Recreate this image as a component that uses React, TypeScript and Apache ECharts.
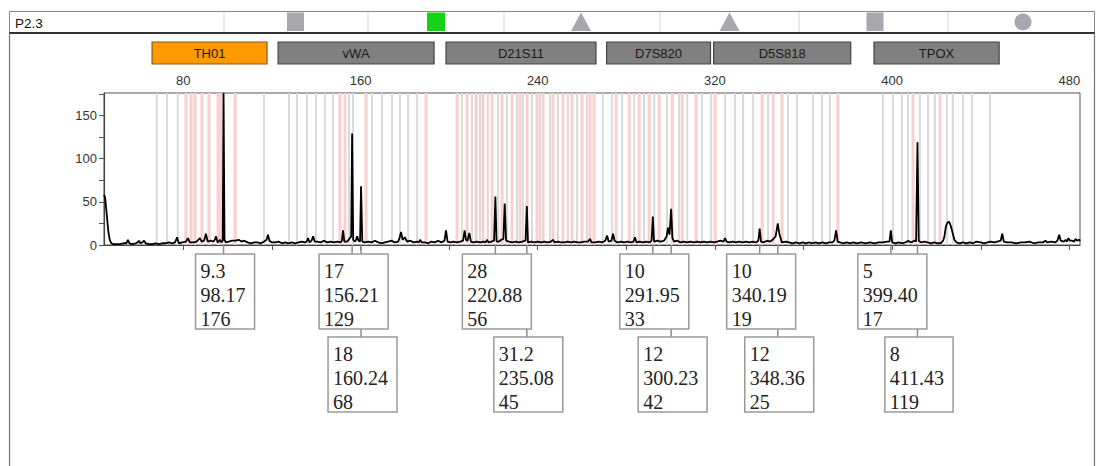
import React, { useEffect, useRef } from "react";
import * as echarts from "echarts";

const FONT_SANS = "'Liberation Sans', Arial, Helvetica, sans-serif";
const FONT_SERIF = "'Liberation Serif', 'Times New Roman', serif";

// Axis ticks / labels
const xTickValues = [80, 120, 160, 200, 240, 280, 320, 360, 400, 440, 480];
const xLabelValues = [80, 160, 240, 320, 400, 480];
const yTickValues = [0, 25, 50, 75, 100, 125, 150, 175];
const yLabelValues = [0, 50, 100, 150];

// Loci (bp ranges)
const locusNames = ["TH01", "vWA", "D21S11", "D7S820", "D5S818", "TPOX"];
const locusStart = [65.9, 122.8, 198.6, 271.1, 319.4, 391.8];
const locusEnd = [117.8, 193.2, 266.3, 318.0, 381.3, 448.3];
const selectedLocus = "TH01";

// Called alleles
const alleleNames = ["9.3", "17", "18", "28", "31.2", "10", "12", "10", "12", "5", "8"];
const alleleSizes = [98.17, 156.21, 160.24, 220.88, 235.08, 291.95, 300.23, 340.19, 348.36, 399.4, 411.43];
const alleleHeights = [176, 129, 68, 56, 45, 33, 42, 19, 25, 17, 119];
const alleleRow = [0, 0, 1, 0, 1, 0, 1, 0, 1, 0, 1];

// Bins (bp)
const binsGrey = [
  68.0, 72.6, 77.5, 116.4,
  127.7, 131.3, 135.8, 139.9, 143.9, 147.6, 154.8, 156.6, 165.2, 169.7, 174.2, 177.8, 181.5, 185.5,
  205.8, 210.3, 213.9, 217.5, 222.1, 226.1, 230.6, 233.3, 237.4, 241.0, 245.5, 249.1, 253.6, 257.7, 262.2, 269.4,
  273.6, 278.1, 283.5, 288.0, 292.6, 298.4, 303.8, 307.5, 314.2, 318.3,
  324.6, 329.1, 332.7, 337.2, 344.0, 353.0, 357.1, 364.3, 368.3, 371.9,
  395.8, 400.4, 404.4, 407.1, 412.5, 416.2, 419.3, 424.7, 427.4, 432.0, 436.0, 444.2,
];
const binsPink = [
  81.2, 83.5, 85.3, 88.4, 91.6, 95.7, 97.0, 103.4,
  150.7, 153.0, 162.5, 189.6,
  203.6, 208.1, 212.2, 215.3, 219.4, 223.9, 228.4, 232.0, 235.2, 239.7, 242.4, 246.9, 251.4, 255.5, 260.0, 263.6, 265.4,
  275.4, 281.3, 285.8, 290.3, 294.8, 300.7, 305.2, 311.5,
  320.1, 341.3, 346.3, 350.3, 375.5,
  409.4, 421.6,
];

// Trace (size bp, RFU)
const traceSize = [
  44.2, 44.7, 45.2, 45.7, 46.2, 46.8, 47.5, 48.5, 50, 51.5, 53, 54.3, 55.0, 55.7, 57, 58.5, 59.4, 60.0, 60.6, 61.5,
  62.3, 63.0, 64.5, 66, 67.5, 69, 70.5, 72, 73.5, 75, 76.3, 77.2, 78.0, 79.5, 81.2, 82.1, 82.9, 84.5, 86, 87.5,
  88.3, 89.4, 90.2, 91.0, 92.3, 93.6, 94.2, 94.8, 95.5, 96.0, 96.6, 97.2, 97.8, 98.17, 98.6, 99.2, 100.5, 102, 103.5, 105,
  106.3, 107.5, 109, 110.5, 112, 113.5, 115, 116.5, 117.6, 118.2, 118.9, 120, 121.5, 123, 124.5, 126, 127.5, 129, 130.5, 132,
  133.5, 135, 135.7, 136.3, 137.0, 137.9, 138.6, 139.3, 140.5, 142, 143.5, 145, 146.5, 148, 149.5, 151, 151.6, 152.1, 152.7, 154,
  155.2, 155.8, 156.21, 156.7, 157.5, 158.0, 158.5, 159.1, 159.8, 160.24, 160.8, 162, 163.5, 165, 166.5, 168, 169.5, 171, 172.5, 174,
  175.5, 177, 177.7, 178.3, 179.0, 180, 181, 182.5, 184, 185.5, 186.3, 186.9, 187.6, 189, 190.5, 192, 193.5, 195, 196.5, 197.9,
  198.6, 199.3, 200.5, 202, 203.5, 205, 206.3, 207.0, 207.6, 208.3, 209.1, 209.8, 211, 212.5, 214, 215.5, 216.5, 217.1, 217.8, 219,
  220.3, 220.88, 221.4, 222.5, 223.5, 224.5, 225.1, 225.7, 227, 228.5, 230, 231.5, 233, 234.5, 235.08, 235.6, 237, 238.5, 240, 241.5,
  243, 244.5, 246, 246.9, 247.6, 249, 250.5, 252, 253.5, 255, 256.5, 258, 259.5, 261, 262.7, 263.6, 264.3, 266, 267.5, 269,
  270.5, 271.3, 272.0, 273.3, 274.0, 274.7, 276, 277.5, 279, 280.5, 282, 283.2, 283.9, 284.6, 286, 287.5, 289, 290.5, 291.4, 291.95,
  292.5, 294, 295.5, 297, 298.2, 298.8, 299.5, 300.23, 300.8, 301.6, 303, 304.5, 306, 307.5, 309, 310.5, 312, 313.5, 315, 316.5,
  318, 319.5, 321, 322.5, 323.8, 324.6, 325.3, 326.5, 328, 329.5, 331, 332.5, 334, 335.5, 337, 338.5, 339.6, 340.19, 340.8, 342,
  343.5, 345, 346.0, 346.7, 347.4, 348.36, 349.0, 349.4, 350.2, 352, 353.5, 355, 356.5, 358, 359.5, 361, 362.5, 364, 365.5, 367,
  368.5, 370, 371.5, 373, 373.9, 374.7, 375.4, 376.5, 378, 379.5, 381, 382.5, 384, 386, 388, 390, 392, 394, 396, 397.5,
  398.8, 399.4, 400.0, 401.5, 403, 404.5, 406, 407.3, 408.3, 409.3, 410.0, 410.8, 411.43, 412.0, 413, 414.5, 416, 417.5, 419, 420.5,
  422, 423.0, 423.6, 424.3, 425.0, 425.7, 426.5, 427.2, 428.1, 429, 430.5, 432, 433.5, 435, 436.5, 438, 440, 441.5, 443, 444.5,
  446, 447.5, 449.0, 449.7, 450.4, 452, 454, 456, 458, 460, 462, 464, 466, 468, 469.2, 470, 472, 473.5, 474.6, 475.4,
  476.1, 477.5, 478.3, 479.0, 479.6, 480.3, 481.2, 482.2, 482.8, 483.5, 484.3, 485.0,
];
const traceRfu = [
  58, 55, 42, 28, 15, 6, 2, 1, 1, 1, 2, 2, 6, 2, 1, 2, 3, 5, 2, 3,
  5, 2, 1, 1, 2, 1, 2, 2, 3, 2, 3, 9, 2, 3, 4, 8, 3, 3, 4, 8,
  4, 5, 13, 4, 5, 4, 6, 10, 3, 4, 6, 3, 5, 176, 6, 3, 4, 5, 5, 6,
  4, 5, 3, 2, 3, 3, 2, 4, 6, 12, 5, 3, 3, 4, 2, 3, 2, 3, 2, 3,
  4, 3, 4, 8, 3, 5, 10, 4, 4, 3, 5, 3, 4, 3, 4, 3, 5, 17, 4, 4,
  8, 10, 129, 6, 4, 6, 10, 5, 4, 68, 4, 3, 4, 3, 5, 3, 2, 3, 4, 5,
  3, 4, 9, 15, 6, 9, 4, 5, 3, 4, 3, 6, 3, 3, 2, 4, 3, 5, 3, 5,
  17, 4, 3, 4, 3, 4, 5, 17, 6, 5, 14, 4, 3, 4, 3, 4, 3, 6, 3, 4,
  5, 56, 4, 4, 6, 7, 48, 5, 4, 3, 4, 3, 4, 5, 45, 3, 4, 3, 4, 3,
  4, 3, 4, 6, 3, 4, 3, 3, 4, 3, 4, 3, 3, 4, 4, 7, 3, 3, 4, 3,
  5, 11, 4, 5, 13, 5, 3, 4, 3, 4, 3, 4, 9, 3, 4, 3, 4, 3, 5, 33,
  4, 5, 4, 5, 10, 20, 12, 42, 8, 4, 5, 3, 4, 3, 4, 3, 4, 3, 4, 3,
  4, 3, 4, 5, 4, 8, 4, 3, 4, 3, 4, 3, 4, 3, 4, 3, 5, 19, 4, 3,
  5, 4, 6, 8, 10, 25, 14, 10, 3, 4, 3, 2, 3, 2, 3, 2, 3, 2, 3, 2,
  3, 2, 3, 3, 5, 17, 4, 3, 2, 3, 2, 3, 2, 3, 2, 3, 2, 3, 3, 4,
  4, 17, 3, 2, 3, 2, 3, 5, 3, 4, 5, 4, 119, 5, 3, 4, 3, 2, 3, 2,
  2, 5, 10, 22, 26, 27, 22, 15, 6, 3, 2, 3, 2, 3, 2, 4, 3, 2, 3, 4,
  3, 4, 5, 13, 4, 3, 3, 2, 3, 3, 4, 2, 3, 3, 5, 3, 4, 3, 5, 12,
  5, 4, 6, 4, 8, 5, 5, 4, 7, 5, 6, 5,
];

const Y_MAX = 176;

let measureCtx: CanvasRenderingContext2D | null = null;
function textWidth(t: string, font: string): number {
  if (!measureCtx) measureCtx = document.createElement("canvas").getContext("2d");
  if (!measureCtx) return t.length * 10;
  measureCtx.font = font;
  return measureCtx.measureText(t).width;
}

export default function App() {
  const ref = useRef<HTMLDivElement>(null);

  useEffect(() => {
    if (!ref.current) return;
    const chart = echarts.init(ref.current, undefined, { renderer: "svg" });

    const boxFont = `20px ${FONT_SERIF}`;
    const alleleData = alleleSizes.map((s, i) => [s, alleleHeights[i], alleleRow[i], i]);

    const binSeries = (vals: number[], color: string, width: number) => ({
      type: "custom",
      silent: true,
      z: 1,
      clip: false,
      data: vals.map((v) => [v, 0]),
      encode: { x: 0, y: 1 },
      renderItem: (params: any, api: any) => {
        const v = api.value(0);
        const p1 = api.coord([v, Y_MAX]);
        const p2 = api.coord([v, 0]);
        return {
          type: "line",
          shape: { x1: p1[0], y1: p1[1], x2: p2[0], y2: p2[1] },
          style: { stroke: color, lineWidth: width },
        };
      },
    });

    const option: any = {
      animation: false,
      grid: {
        left: 104,
        top: 93,
        right: 18,
        bottom: 221,
        show: true,
        borderColor: "#555",
        borderWidth: 1,
        backgroundColor: "#fff",
      },
      xAxis: {
        type: "value",
        position: "top",
        min: 44.2,
        max: 484.8,
        axisLine: { show: true, lineStyle: { color: "#444", width: 1.2 } },
        axisTick: {
          show: true,
          inside: true,
          length: 5,
          customValues: xTickValues,
          lineStyle: { color: "#555", width: 1 },
        },
        axisLabel: {
          customValues: xLabelValues,
          color: "#333",
          fontSize: 13,
          fontFamily: FONT_SANS,
          margin: 6,
        },
        splitLine: { show: false },
      },
      yAxis: {
        type: "value",
        min: 0,
        max: Y_MAX,
        axisLine: { show: true, lineStyle: { color: "#444", width: 1.2 } },
        axisTick: {
          show: true,
          length: 5,
          customValues: yTickValues,
          lineStyle: { color: "#555", width: 1 },
        },
        axisLabel: {
          customValues: yLabelValues,
          color: "#333",
          fontSize: 13,
          fontFamily: FONT_SANS,
          margin: 7,
        },
        splitLine: { show: false },
      },
      graphic: [
        // top bar
        {
          type: "rect",
          shape: { x: 9.5, y: 11.5, width: 1085, height: 21.5 },
          style: { fill: "#fff", stroke: "#888", lineWidth: 1 },
        },
        ...[224, 368, 504, 660, 799, 948].map((x) => ({
          type: "line",
          shape: { x1: x, y1: 12, x2: x, y2: 32 },
          style: { stroke: "#dcdcdc", lineWidth: 1.2 },
        })),
        {
          type: "line",
          shape: { x1: 9, y1: 33, x2: 1095, y2: 33 },
          style: { stroke: "#333", lineWidth: 2 },
        },
        {
          type: "text",
          style: {
            x: 15,
            y: 23,
            text: "P2.3",
            fill: "#111",
            fontSize: 13.5,
            fontFamily: FONT_SANS,
            verticalAlign: "middle",
          },
        },
        {
          type: "rect",
          shape: { x: 287, y: 12.5, width: 17, height: 18.5 },
          style: { fill: "#a7a7ad" },
        },
        {
          type: "rect",
          shape: { x: 427, y: 12.5, width: 18, height: 18.5 },
          style: { fill: "#14d214" },
        },
        {
          type: "polygon",
          shape: { points: [[581, 12.5], [571, 31], [591, 31]] },
          style: { fill: "#a7a7ad" },
        },
        {
          type: "polygon",
          shape: { points: [[729.5, 12.5], [719.5, 31], [739.5, 31]] },
          style: { fill: "#a7a7ad" },
        },
        {
          type: "rect",
          shape: { x: 866.5, y: 12.5, width: 17, height: 18.5 },
          style: { fill: "#a7a7ad" },
        },
        {
          type: "circle",
          shape: { cx: 1023, cy: 22, r: 8.5 },
          style: { fill: "#a7a7ad" },
        },
        // panel sides
        {
          type: "line",
          shape: { x1: 9.5, y1: 33, x2: 9.5, y2: 466 },
          style: { stroke: "#777", lineWidth: 1.2 },
        },
        {
          type: "line",
          shape: { x1: 1094.5, y1: 33, x2: 1094.5, y2: 466 },
          style: { stroke: "#777", lineWidth: 1.2 },
        },
      ],
      series: [
        binSeries(binsGrey, "#dadada", 2),
        binSeries(binsPink, "#f9cfd0", 3),
        {
          type: "line",
          data: traceSize.map((x, i) => [x, traceRfu[i]]),
          showSymbol: false,
          symbol: "none",
          silent: true,
          z: 5,
          lineStyle: { color: "#000", width: 1.8 },
        },
        // locus boxes
        {
          type: "custom",
          silent: true,
          clip: false,
          z: 6,
          data: locusNames.map((n, i) => [locusStart[i], 0, locusEnd[i], i]),
          encode: { x: 0, y: 1 },
          renderItem: (params: any, api: any) => {
            const i = api.value(3);
            const x1 = api.coord([api.value(0), 0])[0];
            const x2 = api.coord([api.value(2), 0])[0];
            const top = params.coordSys.y - 51;
            const selected = locusNames[i] === selectedLocus;
            return {
              type: "group",
              children: [
                {
                  type: "rect",
                  shape: { x: x1, y: top, width: x2 - x1, height: 22 },
                  style: {
                    fill: selected ? "#ff9900" : "#808080",
                    stroke: selected ? "#8a5a10" : "#444",
                    lineWidth: 1.2,
                  },
                },
                {
                  type: "text",
                  style: {
                    x: (x1 + x2) / 2,
                    y: top + 11.5,
                    text: locusNames[i],
                    fill: "#1a1a1a",
                    fontSize: 13,
                    fontFamily: FONT_SANS,
                    align: "center",
                    verticalAlign: "middle",
                  },
                },
              ],
            };
          },
        },
        // connectors
        {
          type: "custom",
          silent: true,
          clip: false,
          z: 7,
          data: alleleData,
          encode: { x: 0, y: 1 },
          renderItem: (params: any, api: any) => {
            const px = api.coord([api.value(0), 0])[0];
            const bottom = params.coordSys.y + params.coordSys.height;
            const row = api.value(2);
            const boxTop = bottom + (row === 0 ? 9 : 92);
            return {
              type: "line",
              shape: { x1: px, y1: bottom, x2: px, y2: boxTop },
              style: { stroke: "#8c8c8c", lineWidth: 1.5 },
            };
          },
        },
        // allele label boxes
        {
          type: "custom",
          silent: true,
          clip: false,
          z: 8,
          data: alleleData,
          encode: { x: 0, y: 1 },
          renderItem: (params: any, api: any) => {
            const i = api.value(3);
            const px = api.coord([api.value(0), 0])[0];
            const bottom = params.coordSys.y + params.coordSys.height;
            const row = api.value(2);
            const boxTop = bottom + (row === 0 ? 9 : 92);
            const lines = [alleleNames[i], alleleSizes[i].toFixed(2), String(alleleHeights[i])];
            const w = Math.max(...lines.map((t) => textWidth(t, boxFont))) + 14;
            const left = px - w / 2 + 1.5;
            return {
              type: "group",
              children: [
                {
                  type: "rect",
                  shape: { x: left, y: boxTop, width: w, height: 75 },
                  style: { fill: "#fff", stroke: "#9a9a9a", lineWidth: 1.5 },
                },
                ...lines.map((t, k) => ({
                  type: "text",
                  style: {
                    x: left + 5,
                    y: boxTop + 17 + k * 24,
                    text: t,
                    fill: "#222",
                    fontSize: 20,
                    fontFamily: FONT_SERIF,
                    align: "left",
                    verticalAlign: "middle",
                  },
                })),
              ],
            };
          },
        },
      ],
    };

    chart.setOption(option);
    return () => chart.dispose();
  }, []);

  return (
    <div
      ref={ref}
      style={{ position: "fixed", left: 0, top: 0, width: 1098, height: 466, background: "#fff" }}
    />
  );
}
